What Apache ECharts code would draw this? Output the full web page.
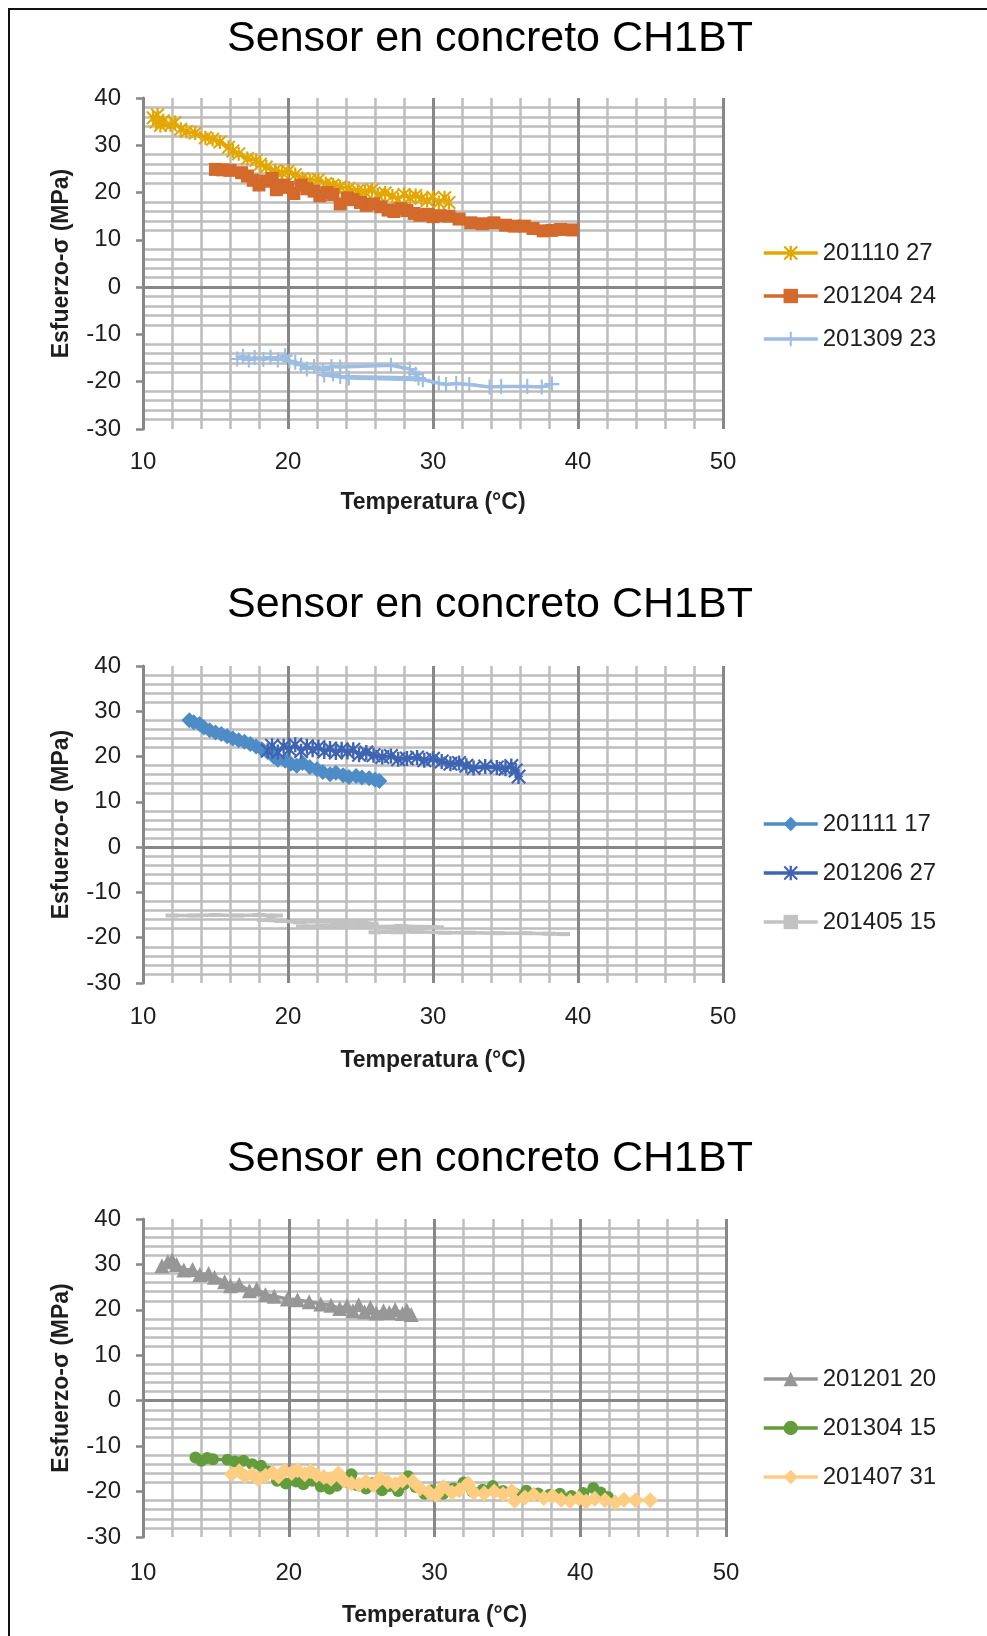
<!DOCTYPE html>
<html>
<head>
<meta charset="utf-8">
<script src="https://cdn.jsdelivr.net/npm/echarts@6/dist/echarts.min.js"></script>
<style>
  html, body { margin: 0; padding: 0; background: #ffffff; }
  #chart { width: 987px; height: 1636px; }
</style>
</head>
<body>
<div id="chart"></div>
<script>
// Stress vs. temperature readings of concrete sensor CH1BT, one panel per group of campaigns.
const chartTitle = 'Sensor en concreto CH1BT';
const xAxisName = 'Temperatura (°C)';
const yAxisName = 'Esfuerzo-σ (MPa)';
const xTicks = [10, 20, 30, 40, 50];
const yTicks = [-30, -20, -10, 0, 10, 20, 30, 40];

// Panel 1
const names1 = ['201110 27', '201204 24', '201309 23'];
const s20111027 = [[10.7,35.8],[11.0,36.4],[10.9,34.9],[11.4,35.2],[11.2,34.2],[11.9,34.3],[12.2,34.8],[12.6,33.4],[13.0,32.9],[13.6,32.6],[14.3,31.6],[14.8,31.3],[15.3,30.7],[15.9,29.6],[16.2,28.8],[16.6,28.2],[17.2,27.2],[17.8,26.8],[18.1,26.0],[18.5,25.4],[19.1,24.6],[19.6,24.2],[20.0,24.5],[20.5,23.8],[21.0,23.0],[21.5,22.6],[22.1,22.7],[22.6,21.9],[23.1,21.6],[23.6,21.2],[24.2,20.9],[24.8,20.4],[25.3,20.2],[25.8,20.6],[26.2,19.5],[26.7,19.9],[27.2,19.3],[27.6,18.6],[28.0,19.6],[28.4,18.9],[28.8,19.4],[29.2,18.8],[29.6,18.3],[30.0,19.0],[30.4,17.9],[30.8,18.9],[31.1,17.9]];
const s20120424 = [[15.0,24.9],[15.5,24.8],[16.0,24.7],[16.8,24.2],[17.2,23.5],[17.6,22.6],[18.0,21.6],[18.5,22.4],[18.9,23.0],[19.2,20.6],[19.7,21.6],[20.0,21.1],[20.4,19.8],[20.9,21.6],[21.3,20.8],[21.8,20.3],[22.2,19.3],[22.7,20.0],[23.1,19.6],[23.6,17.6],[24.1,18.9],[24.5,18.5],[25.0,17.9],[25.4,17.3],[25.9,17.6],[26.4,17.0],[26.9,16.3],[27.3,16.0],[27.8,16.6],[28.2,16.2],[28.7,15.6],[29.1,15.2],[29.6,15.4],[30.0,14.9],[30.5,15.1],[31.1,15.0],[31.8,14.4],[32.6,13.6],[33.4,13.4],[34.2,13.6],[35.0,13.1],[35.6,12.9],[36.3,12.9],[36.9,12.4],[37.6,11.9],[38.2,12.0],[38.8,12.2],[39.6,12.1]];
const s20130923 = [[16.5,-15.2],[16.9,-14.6],[17.3,-15.4],[17.7,-14.9],[18.3,-15.3],[18.8,-14.8],[19.3,-15.4],[19.8,-14.5],[20.1,-15.6],[20.5,-15.9],[20.9,-16.5],[21.3,-17.3],[21.8,-16.8],[22.4,-17.5],[23.0,-16.8],[23.6,-16.9],[27.1,-16.5],[28.4,-17.3],[28.8,-18.4],[29.0,-19.2],[23.6,-18.9],[23.1,-18.3],[22.5,-18.6],[24.2,-19.2],[29.3,-19.6],[30.4,-20.3],[30.9,-20.6],[31.6,-20.4],[32.5,-20.6],[33.9,-21.1],[34.7,-21.0],[36.5,-21.0],[37.5,-21.1],[38.2,-20.5]];

// Panel 2
const names2 = ['201111 17', '201206 27', '201405 15'];
const s20111117 = [[13.2,28.0],[13.5,27.6],[13.9,27.2],[14.2,26.4],[14.6,25.8],[15.0,25.3],[15.4,25.0],[15.8,24.5],[16.2,24.0],[16.6,23.6],[17.0,23.3],[17.4,22.8],[17.8,22.2],[18.2,21.6],[18.6,21.0],[19.0,20.0],[19.3,19.3],[19.8,19.1],[20.2,18.4],[20.6,18.0],[21.0,18.6],[21.5,17.7],[22.0,17.2],[22.4,16.6],[22.9,16.1],[23.3,16.4],[23.8,15.9],[24.2,15.5],[24.7,15.7],[25.1,15.4],[25.6,15.2],[26.0,14.9],[26.3,14.6]];
const s20120627 = [[18.6,21.3],[18.9,22.4],[19.3,21.0],[19.7,22.3],[20.1,21.6],[20.5,22.6],[20.9,21.2],[21.3,22.3],[21.7,21.5],[22.1,22.1],[22.5,21.1],[22.9,21.8],[23.3,20.9],[23.7,21.6],[24.1,21.0],[24.5,21.5],[24.9,20.4],[25.4,20.9],[25.9,20.3],[26.5,19.9],[27.1,20.1],[27.6,19.4],[28.2,19.6],[28.9,19.8],[29.4,19.2],[30.0,19.5],[30.6,18.9],[31.2,18.4],[31.8,18.6],[32.3,18.0],[32.8,17.5],[33.6,17.8],[34.4,17.6],[35.0,17.3],[35.4,17.9],[35.7,16.9],[35.9,15.6]];
const s20140515 = [[12.0,-15.1],[13.5,-15.1],[15.0,-15.0],[16.5,-15.1],[18.0,-15.0],[19.2,-15.1],[18.3,-16.1],[19.5,-16.3],[20.8,-16.6],[22.2,-16.4],[23.6,-16.6],[25.1,-16.5],[25.8,-16.9],[21.0,-17.5],[22.8,-17.4],[24.5,-17.6],[26.2,-17.6],[27.8,-17.4],[29.4,-17.6],[30.3,-17.7],[26.0,-18.8],[27.5,-18.8],[28.9,-18.7],[30.8,-18.9],[32.5,-18.9],[34.5,-19.0],[36.4,-19.0],[38.0,-19.1],[39.0,-19.2]];

// Panel 3
const names3 = ['201201 20', '201304 15', '201407 31'];
const s20120120 = [[11.3,29.7],[11.7,30.6],[12.0,31.0],[12.3,30.0],[12.8,28.8],[13.4,28.9],[13.9,27.8],[14.5,28.0],[14.9,27.2],[15.6,26.2],[16.0,25.3],[16.6,25.6],[17.3,24.2],[17.8,24.6],[18.4,23.4],[19.0,23.0],[19.9,22.4],[20.6,22.2],[21.4,21.8],[22.2,21.3],[22.9,21.0],[23.5,20.3],[24.0,20.9],[24.4,19.8],[24.8,21.1],[25.2,19.6],[25.6,20.5],[26.0,19.3],[26.5,19.8],[26.9,19.4],[27.3,20.1],[27.8,19.2],[28.1,19.9],[28.4,19.0]];
const s20130415 = [[13.6,-12.5],[14.0,-13.2],[14.4,-12.6],[14.8,-12.9],[15.8,-13.0],[16.3,-13.4],[16.9,-13.2],[17.5,-14.0],[18.1,-14.3],[18.6,-15.6],[19.2,-17.6],[19.8,-18.2],[20.5,-17.8],[21.0,-18.4],[21.6,-17.6],[22.2,-18.9],[22.8,-19.4],[23.3,-18.7],[23.9,-17.8],[24.3,-16.2],[24.7,-18.6],[25.3,-19.3],[25.8,-18.1],[26.4,-19.7],[26.9,-18.8],[27.5,-19.9],[27.9,-18.4],[28.2,-16.6],[28.7,-19.0],[29.3,-20.5],[29.8,-19.7],[30.6,-20.5],[31.3,-19.3],[32.0,-18.0],[32.6,-20.0],[33.3,-19.6],[34.0,-18.8],[34.7,-19.9],[35.5,-20.4],[36.3,-19.8],[37.1,-20.4],[37.9,-20.7],[38.6,-20.5],[39.4,-21.0],[40.2,-20.3],[40.9,-19.2],[41.4,-20.2],[41.9,-21.2]];
const s20140731 = [[16.1,-16.2],[16.6,-15.5],[17.0,-16.6],[17.5,-16.2],[17.9,-17.3],[18.4,-16.5],[18.9,-15.8],[19.3,-16.7],[19.7,-15.4],[20.2,-15.9],[20.6,-15.3],[21.1,-16.2],[21.5,-15.5],[21.9,-16.4],[22.4,-16.8],[22.9,-17.2],[23.4,-16.0],[23.8,-17.6],[24.3,-18.2],[24.8,-18.5],[25.3,-17.8],[25.8,-18.6],[26.3,-17.1],[26.8,-17.9],[27.3,-18.4],[27.8,-17.6],[28.5,-17.8],[29.0,-19.3],[29.6,-20.1],[30.1,-20.8],[30.6,-19.0],[31.2,-20.2],[31.7,-19.7],[32.3,-18.2],[32.7,-20.2],[33.4,-20.4],[34.1,-20.0],[34.7,-20.6],[35.3,-19.9],[35.5,-22.0],[36.2,-21.3],[36.8,-20.7],[37.5,-21.4],[38.1,-21.0],[38.7,-21.8],[39.3,-22.1],[39.9,-21.5],[40.4,-22.2],[41.0,-21.6],[41.7,-21.9],[42.4,-22.4],[43.0,-21.8],[43.8,-21.9],[44.8,-21.9]];

// Marker shapes
const SYM_STAR = 'path://M1,0L5,4L9,0L10,1L6,5L10,9L9,10L5,6L1,10L0,9L4,5L0,1Z M4.2,0H5.8V10H4.2Z';
const SYM_PLUS = 'path://M4.3,0H5.7V4.3H10V5.7H5.7V10H4.3V5.7H0V4.3H4.3Z';

const FONT = '"Liberation Sans", Arial, sans-serif';
const MAJOR = '#878787';
const MINOR = '#bdbdbd';
const TEXT = '#1e1e1e';

const panels = [
  { left: 143, top: 98, width: 580, height: 331, titleY: 39, legendTop: 241, legendGap: 19, labelMargin: 21, nameGap: 62,
    series: [
      { name: names1[0], data: s20111027, color: '#e4a700', symbol: SYM_STAR, size: 14, width: 3.5 },
      { name: names1[1], data: s20120424, color: '#d3692a', symbol: 'rect', size: 13, width: 3.5 },
      { name: names1[2], data: s20130923, color: '#9dbde3', symbol: SYM_PLUS, size: 15, width: 3.5 }
    ] },
  { left: 143, top: 666, width: 580, height: 317, titleY: 605, legendTop: 812, legendGap: 25, labelMargin: 22, nameGap: 66,
    series: [
      { name: names2[0], data: s20111117, color: '#4e8cc7', symbol: 'diamond', size: 16, width: 4 },
      { name: names2[1], data: s20120627, color: '#3e64b3', symbol: SYM_STAR, size: 15, width: 4 },
      { name: names2[2], data: s20140515, color: '#c2c2c2', symbol: 'rect', size: [13, 4], width: 3.5 }
    ] },
  { left: 143, top: 1219, width: 583, height: 318, titleY: 1159, legendTop: 1367, legendGap: 25, labelMargin: 24, nameGap: 67,
    series: [
      { name: names3[0], data: s20120120, color: '#979797', symbol: 'triangle', size: 15, width: 3.5 },
      { name: names3[1], data: s20130415, color: '#629c3c', symbol: 'circle', size: 12, width: 3.5 },
      { name: names3[2], data: s20140731, color: '#fdce82', symbol: 'diamond', size: 16, width: 3.5 }
    ] }
];

const option = {
  animation: false,
  backgroundColor: '#ffffff',
  title: [], grid: [], xAxis: [], yAxis: [], legend: [], series: [],
  graphic: [{
    type: 'rect', silent: true, z: 100,
    shape: { x: 9, y: 9, width: 1000, height: 1700 },
    style: { fill: null, stroke: '#111', lineWidth: 2 }
  }]
};

panels.forEach((p, i) => {
  option.title.push({
    text: chartTitle, left: 490, top: p.titleY, padding: 0,
    textAlign: 'center', textVerticalAlign: 'middle',
    textStyle: { fontFamily: FONT, fontSize: 43, fontWeight: 'normal', color: '#000' }
  });
  option.grid.push({ left: p.left, top: p.top, width: p.width, height: p.height, containLabel: false });
  option.xAxis.push({
    type: 'value', gridIndex: i, min: xTicks[0], max: xTicks[xTicks.length - 1], interval: 10,
    name: xAxisName, nameLocation: 'middle', nameGap: p.nameGap,
    nameTextStyle: { fontFamily: FONT, fontSize: 23, fontWeight: 'bold', color: TEXT },
    axisLine: { show: false, onZero: false },
    axisTick: { show: false },
    axisLabel: { fontFamily: FONT, fontSize: 24, color: TEXT, margin: p.labelMargin },
    splitLine: { show: true, lineStyle: { color: MAJOR, width: 3 } },
    minorTick: { show: false, splitNumber: 5 },
    minorSplitLine: { show: true, lineStyle: { color: MINOR, width: 2.5 } }
  });
  option.yAxis.push({
    type: 'value', gridIndex: i, min: yTicks[0], max: yTicks[yTicks.length - 1], interval: 10,
    name: yAxisName, nameLocation: 'middle', nameGap: 70, nameRotate: 90,
    nameTextStyle: { fontFamily: FONT, fontSize: 23, fontWeight: 'bold', color: TEXT },
    axisLine: { show: true, onZero: false, lineStyle: { color: MAJOR, width: 3 } },
    axisTick: { show: true, inside: false, length: 7, lineStyle: { color: MAJOR, width: 2.5 } },
    axisLabel: { fontFamily: FONT, fontSize: 24, color: TEXT, margin: 22 },
    splitLine: { show: false },
    minorTick: { show: false, splitNumber: 5 },
    minorSplitLine: { show: true, lineStyle: { color: MINOR, width: 2.5 } }
  });
  option.legend.push({
    orient: 'vertical', left: 762, top: p.legendTop, padding: 0,
    itemWidth: 54, itemHeight: 18, itemGap: p.legendGap, selectedMode: false,
    lineStyle: { width: 3.5 },
    textStyle: { fontFamily: FONT, fontSize: 24, color: TEXT, lineHeight: 24 },
    data: p.series.map(s => s.name)
  });
  p.series.forEach((s, k) => {
    const ser = {
      type: 'line', name: s.name, xAxisIndex: i, yAxisIndex: i,
      data: s.data, color: s.color,
      symbol: s.symbol, symbolSize: s.size, showSymbol: true,
      lineStyle: { color: s.color, width: s.width },
      itemStyle: { color: s.color, borderWidth: 0 },
      emphasis: { disabled: true }
    };
    if (k === 0) {
      // horizontal axis crossing at zero stress
      ser.markLine = {
        silent: true, symbol: 'none', label: { show: false },
        lineStyle: { color: MAJOR, width: 3, type: 'solid' },
        emphasis: { disabled: true },
        data: [{ yAxis: 0 }]
      };
    }
    option.series.push(ser);
  });
});

const chart = echarts.init(document.getElementById('chart'), null, { renderer: 'canvas' });
chart.setOption(option);
</script>
</body>
</html>
